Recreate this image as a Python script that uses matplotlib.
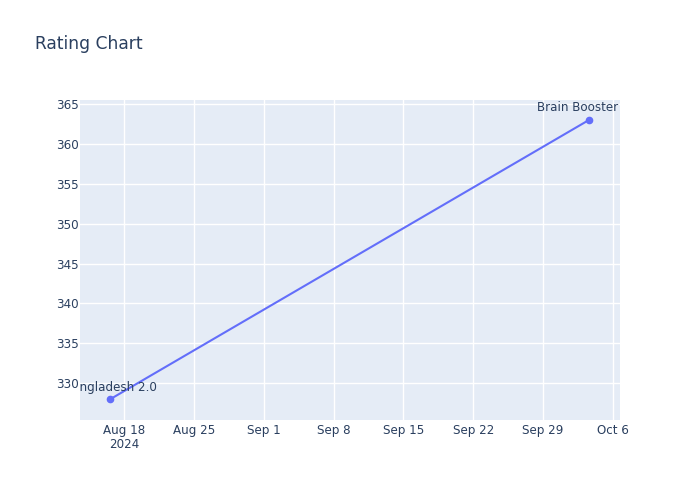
import matplotlib
matplotlib.use("Agg")
import matplotlib.pyplot as plt
import matplotlib.dates as mdates
import pandas as pd

# Data
contests = ["Bangladesh 2.0", "Brain Booster"]
dates = pd.to_datetime(["2024-08-16 14:30", "2024-10-03 14:30"])
ratings = [328, 363]

tick_dates = pd.to_datetime(["2024-08-18", "2024-08-25", "2024-09-01", "2024-09-08",
                             "2024-09-15", "2024-09-22", "2024-09-29", "2024-10-06"])
tick_labels = ["Aug 18\n2024", "Aug 25", "Sep 1", "Sep 8", "Sep 15", "Sep 22", "Sep 29", "Oct 6"]
y_ticks = [330, 335, 340, 345, 350, 355, 360, 365]

text_col = "#2a3f5f"
line_col = "#636efa"
# horizontal nudge of the point labels (points); the last one is pushed back inside the plot
label_dx = [0, -8]

fig = plt.figure(figsize=(7, 5), dpi=100)
ax = fig.add_axes([80 / 700, 80 / 500, 540 / 700, 320 / 500])
ax.set_facecolor("#E5ECF6")

ax.plot(dates, ratings, color=line_col, linewidth=1.5, marker="o", markersize=4.5, zorder=3)
for d, r, name, dx in zip(dates, ratings, contests, label_dx):
    ax.annotate(name, (d, r), xytext=(dx, 4), textcoords="offset points",
                ha="center", va="bottom", fontsize=8.6, color=text_col,
                annotation_clip=False, clip_on=True, zorder=4)

ax.set_xticks(mdates.date2num(tick_dates))
ax.set_xticklabels(tick_labels, linespacing=1.05)
ax.set_yticks(y_ticks)
ax.set_xlim(mdates.date2num(pd.Timestamp("2024-08-13 14:00")),
            mdates.date2num(pd.Timestamp("2024-10-06 17:00")))
ax.set_ylim(325.4, 365.5)

ax.grid(True, color="white", linewidth=1)
ax.set_axisbelow(True)
for s in ax.spines.values():
    s.set_visible(False)
ax.tick_params(length=0, labelsize=8.6, labelcolor=text_col)
ax.tick_params(axis="x", pad=3)
ax.tick_params(axis="y", pad=1)

fig.text(35 / 700, 1 - 44 / 500, "Rating Chart", fontsize=12.3, color=text_col, va="center")

fig.savefig("out.png", dpi=100)
